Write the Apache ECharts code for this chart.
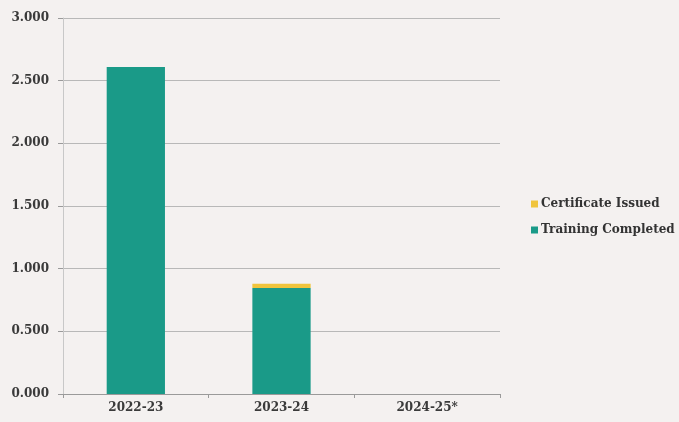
<!DOCTYPE html>
<html><head><meta charset="utf-8">
<style>html,body{margin:0;padding:0;background:#f4f1f0;}#c{width:679px;height:422px;}</style>
<script src="https://cdn.jsdelivr.net/npm/echarts@6/dist/echarts.min.js"></script>
</head><body><div id="c"></div>
<script>
const categories = ['2022-23', '2023-24', '2024-25*'];
const trainingCompleted = [2.61, 0.845, 0];
const certificateIssued = [0, 0.035, 0];
const yTicks = [0, 0.5, 1, 1.5, 2, 2.5, 3];

const chart = echarts.init(document.getElementById('c'));
const font = '"DejaVu Serif", "Liberation Serif", serif';
chart.setOption({
  backgroundColor: '#f4f1f0',
  animation: false,
  grid: { left: 63, right: 179, top: 18, bottom: 28, containLabel: false },
  legend: {
    orient: 'vertical', left: 526, top: 193, itemGap: 14,
    itemWidth: 7, itemHeight: 7, icon: 'rect',
    textStyle: { fontFamily: font, fontSize: 12, fontWeight: 'bold', color: '#333', padding: [0, 0, 0, -2] },
    data: ['Certificate Issued', 'Training Completed']
  },
  xAxis: {
    type: 'category', data: categories,
    axisLine: { lineStyle: { color: '#9a9a9a' } },
    axisTick: { show: true, lineStyle: { color: '#9a9a9a' }, length: 4 },
    axisLabel: { fontFamily: font, fontSize: 12, fontWeight: 'bold', color: '#3a3a3a', margin: 8 }
  },
  yAxis: {
    type: 'value', min: 0, max: 3, interval: 0.5,
    axisLine: { show: true, lineStyle: { color: '#c8c8c8' } },
    axisTick: { show: true, length: 5, lineStyle: { color: '#9a9a9a' } },
    splitLine: { lineStyle: { color: '#b8b8b8' } },
    axisLabel: { fontFamily: font, fontSize: 12, fontWeight: 'bold', color: '#3a3a3a', margin: 14,
      formatter: v => v.toFixed(3) }
  },
  series: [
    { name: 'Training Completed', type: 'bar', stack: 's', barWidth: '40%',
      itemStyle: { color: '#1a9a88' }, data: trainingCompleted },
    { name: 'Certificate Issued', type: 'bar', stack: 's', barWidth: '40%',
      itemStyle: { color: '#f0c43c' }, data: certificateIssued }
  ]
});
</script></body></html>
